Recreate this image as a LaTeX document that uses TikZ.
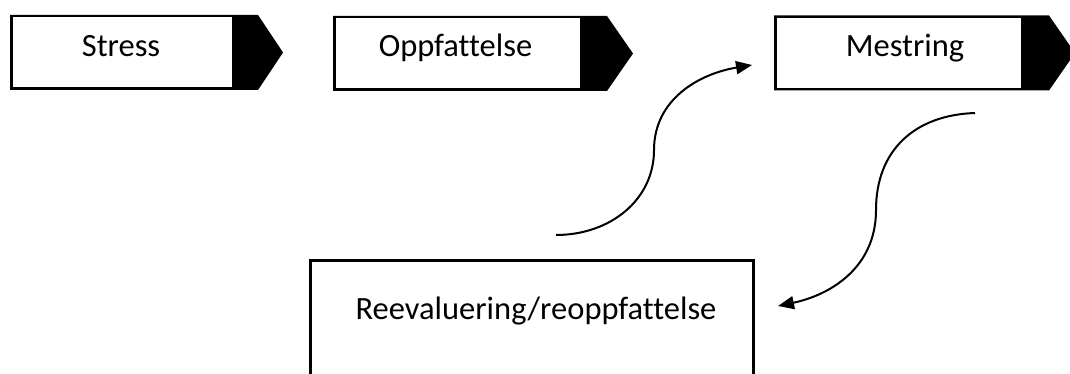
\documentclass[tikz,border=0pt]{standalone}
\usepackage{fontspec}
\setmainfont{Carlito}[Ligatures={NoCommon}]
\usetikzlibrary{arrows.meta}
\begin{document}
\begin{tikzpicture}[x=1pt,y=-1pt,
  lbl/.style={font=\fontsize{32.5}{39}\selectfont, anchor=base, inner sep=0pt},
  flow/.style={line width=2pt, -{Triangle[length=16pt,width=13pt]}},
  tagbox/.style={fill=black},
  innerbox/.style={fill=white},
  plainbox/.style={draw=black, line width=3pt}]
\useasboundingbox (0,0) rectangle (1070,374);
\clip (0,0) rectangle (1070,374);
% Stress
\fill[tagbox] (10,15) -- (258,15) -- (283,52.5) -- (258,90) -- (10,90) -- cycle;
\fill[innerbox] (12.5,17.5) rectangle (232,87.5);
\node[lbl] (stress) at (121,57) {Stress};
% Oppfattelse
\fill[tagbox] (333,16) -- (607,16) -- (633,53.5) -- (607,91) -- (333,91) -- cycle;
\fill[innerbox] (335.5,18.5) rectangle (580,88.5);
\node[lbl] (oppf) at (455.5,57) {Oppfattelse};
% Mestring
\fill[tagbox] (774,15.5) -- (1049,15.5) -- (1075,53) -- (1049,90.5) -- (774,90.5) -- cycle;
\fill[innerbox] (776.5,18) rectangle (1021,88);
\node[lbl] (mestring) at (905,57) {Mestring};
% Reevaluering
\draw[plainbox] (310,260) rectangle (753,400);
\node[lbl] (reeval) at (536,319) {Reevaluering/reoppfattelse};
% curved arrows
\coordinate (c1s) at (556,235);
\coordinate (c1m) at (654,150);
\coordinate (c1e) at (752,65);
\draw[flow] (c1s) .. controls (610,235) and (654,200) .. (c1m) .. controls (654,100) and (698,74) .. (c1e);
\coordinate (c2s) at (975,113);
\coordinate (c2m) at (876,210);
\coordinate (c2e) at (778,306);
\draw[flow] (c2s) .. controls (915,115) and (876,150) .. (c2m) .. controls (876,268) and (830,295) .. (c2e);
\end{tikzpicture}
\end{document}
